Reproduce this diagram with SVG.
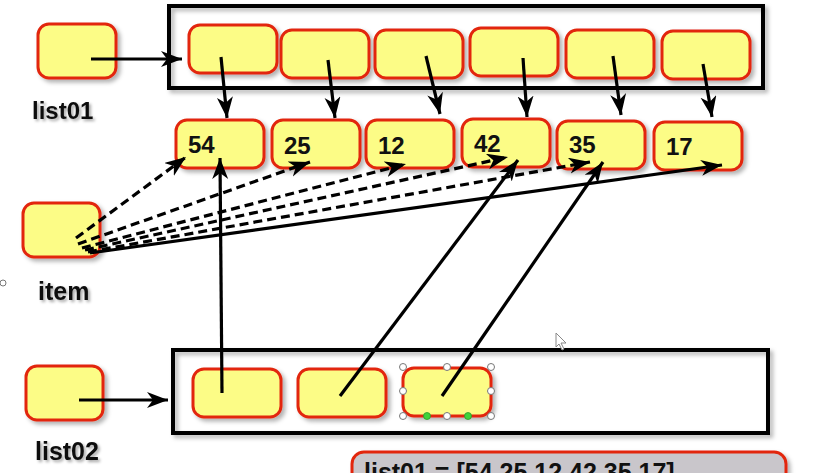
<svg xmlns="http://www.w3.org/2000/svg" width="821" height="473" viewBox="0 0 821 473">
<style>
.cell{fill:#FCFC86;stroke:#E2260E;stroke-width:3;filter:url(#sh)}
.frame{fill:none;stroke:#000;stroke-width:4;filter:url(#sh)}
.lbl{font-family:"Liberation Sans",Arial,sans-serif;font-weight:bold;fill:#111;filter:url(#tsh)}
.num{font-family:"Liberation Sans",Arial,sans-serif;font-weight:bold;font-size:24px;fill:#111}
.ar{fill:none;stroke:#000;stroke-width:3.2;marker-end:url(#ah)}
.da{fill:none;stroke:#000;stroke-width:3.2;stroke-dasharray:9,5;marker-end:url(#ah)}
.hd{fill:#fff;stroke:#777;stroke-width:1}
.hg{fill:#3ED43A;stroke:#2a9a28;stroke-width:0.8}
</style>
<defs>
<filter id="sh" x="-20%" y="-20%" width="140%" height="140%"><feDropShadow dx="3" dy="3" stdDeviation="2" flood-color="#000" flood-opacity="0.3"/></filter>
<filter id="tsh" x="-20%" y="-20%" width="140%" height="140%"><feDropShadow dx="2" dy="2" stdDeviation="1.5" flood-color="#000" flood-opacity="0.35"/></filter>
<marker id="ah" markerUnits="userSpaceOnUse" markerWidth="24" markerHeight="18" refX="21" refY="8" orient="auto"><path d="M0,0 L21,8 L0,16 L6,8 z" fill="#000"/></marker>
</defs>
<rect width="821" height="473" fill="#fff"/>

<g id="list01">
<rect class="cell" x="38" y="24" width="78" height="54" rx="11"/>
<text class="lbl" x="32" y="119" font-size="24">list01</text>
</g>
<g id="item">
<rect class="cell" x="23" y="203" width="77" height="54" rx="11"/>
<text class="lbl" x="38" y="300" font-size="25">item</text>
</g>
<g id="list02">
<rect class="cell" x="26" y="366" width="77" height="54" rx="11"/>
<text class="lbl" x="35" y="460" font-size="25">list02</text>
</g>

<g id="list01-array">
<rect class="frame" x="169" y="6" width="594" height="82"/>
<rect class="cell" x="189" y="25" width="88" height="48" rx="11"/>
<rect class="cell" x="281" y="30" width="88" height="48" rx="11"/>
<rect class="cell" x="375" y="30" width="88" height="48" rx="11"/>
<rect class="cell" x="470" y="28" width="88" height="48" rx="11"/>
<rect class="cell" x="566" y="30" width="88" height="48" rx="11"/>
<rect class="cell" x="662" y="31" width="88" height="48" rx="11"/>
</g>

<g id="values">
<g id="v54"><rect class="cell" x="176" y="120" width="88" height="48" rx="11"/><text class="num" x="188" y="153">54</text></g>
<g id="v25"><rect class="cell" x="272" y="120" width="88" height="48" rx="11"/><text class="num" x="284" y="154">25</text></g>
<g id="v12"><rect class="cell" x="366" y="120" width="88" height="48" rx="11"/><text class="num" x="378" y="154">12</text></g>
<g id="v42"><rect class="cell" x="462" y="119" width="88" height="48" rx="11"/><text class="num" x="474" y="152">42</text></g>
<g id="v35"><rect class="cell" x="557" y="121" width="88" height="48" rx="11"/><text class="num" x="569" y="153">35</text></g>
<g id="v17"><rect class="cell" x="654" y="122" width="88" height="48" rx="11"/><text class="num" x="666" y="155">17</text></g>
</g>

<g id="list02-array">
<rect class="frame" x="173" y="350" width="595" height="83"/>
<rect class="cell" x="193" y="369" width="88" height="48" rx="11"/>
<rect class="cell" x="298" y="369" width="88" height="48" rx="11"/>
<rect class="cell" x="403" y="368" width="88" height="48" rx="11"/>
</g>

<g id="connectors">
<path class="ar" d="M91,59 L182,59"/>
<path class="ar" d="M79,400 L168,400"/>
<path class="ar" d="M221,57 L227,118"/>
<path class="ar" d="M328,60 L335,118"/>
<path class="ar" d="M426,56 L440,114"/>
<path class="ar" d="M523,58 L527,117"/>
<path class="ar" d="M613,56 L621,115"/>
<path class="ar" d="M703,64 L712,117"/>
<path class="da" d="M76,238 L186,157"/>
<path class="da" d="M78,244 L310,162"/>
<path class="da" d="M82,248 L406,164"/>
<path class="da" d="M85,250 L508,157"/>
<path class="da" d="M88,252 L590,162"/>
<path class="ar" d="M90,253 L722,165"/>
<path class="ar" d="M222,393 L220,158"/>
<path class="ar" d="M340,396 L518,160"/>
<path class="ar" d="M442,396 L603,162"/>
</g>

<g id="selection">
<circle class="hd" cx="403" cy="367" r="3.5"/>
<circle class="hd" cx="447" cy="367" r="3.5"/>
<circle class="hd" cx="491" cy="367" r="3.5"/>
<circle class="hd" cx="403" cy="391" r="3.5"/>
<circle class="hd" cx="491" cy="391" r="3.5"/>
<circle class="hd" cx="403" cy="416" r="3.5"/>
<circle class="hd" cx="447" cy="416" r="3.5"/>
<circle class="hd" cx="491" cy="416" r="3.5"/>
<circle class="hg" cx="427" cy="416" r="3.5"/>
<circle class="hg" cx="468" cy="416" r="3.5"/>
<circle class="hd" cx="3" cy="283" r="3"/>
<path d="M556,333 L556,347 L559,344 L562,350 L564,349 L561,343 L566,343 z" fill="#fff" stroke="#888" stroke-width="1"/>
</g>

<g id="code">
<rect x="352" y="452" width="434" height="50" rx="12" fill="#C9C6CB" stroke="#E2260E" stroke-width="3" filter="url(#sh)"/>
<text class="num" x="364" y="481" style="font-size:25px">list01 = [54,25,12,42,35,17]</text>
</g>
</svg>
